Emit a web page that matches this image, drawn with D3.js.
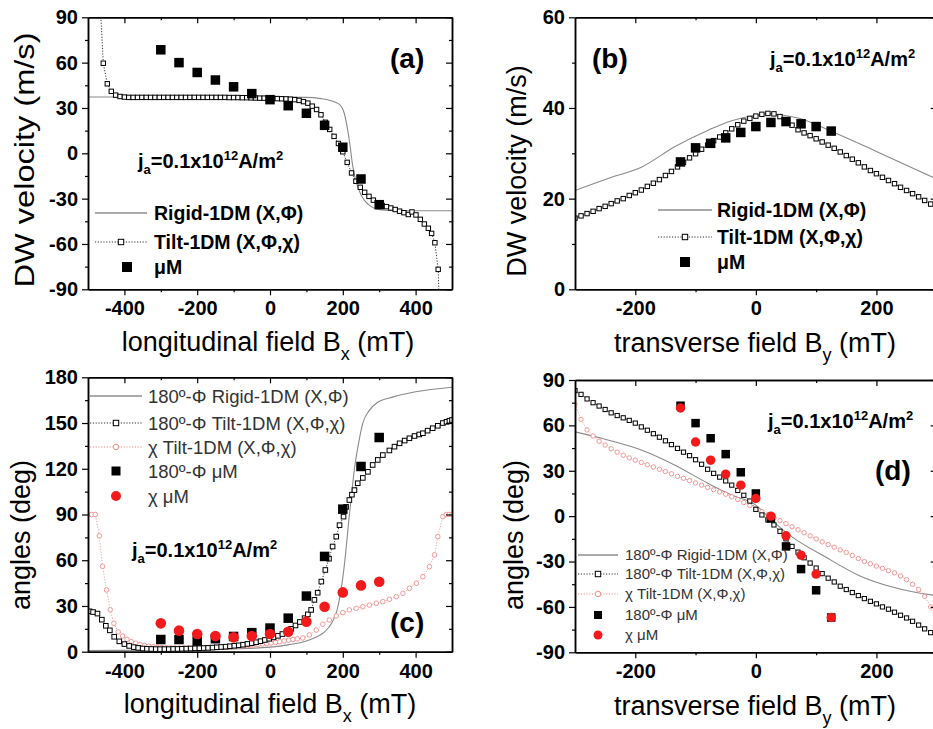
<!DOCTYPE html>
<html>
<head>
<meta charset="utf-8">
<script src="https://cdn.jsdelivr.net/npm/d3@7"></script>
<style>
  body { margin: 0; background: #fff; }
  svg { display: block; }
</style>
</head>
<body>
<svg id="fig" width="933" height="729"></svg>
<script>
// ---------- data ----------
// (a) velocity vs longitudinal field
const aMuX = [-300, -250, -200, -150, -100, -50, 0, 50, 100, 150, 200, 250, 300];
const aMuV = [68.5, 60, 53.5, 48.5, 44, 39.5, 35.5, 31.5, 26.5, 18.5, 4, -17, -34];
const aRigid = [[-500,37.3],[0,37.2],[100,37],[140,36.2],[165,35],[190,32.5],[204,26.5],[213,16],[220,5],
  [227,-8],[234,-16.5],[241,-22],[250,-27.5],[259,-31],[278,-35.3],[305,-37.5],[350,-38],[500,-38]];
const aTilt = [[-465,92],[-458,59.6],[-447,46],[-436,41],[-424,38.5],[-412,37.6],[-400,37.2],[-388,37],[-376,37],
  [-364,37],[-352,37],[-340,37],[-328,37],[-316,37],[-304,37],[-292,37],[-280,37],[-268,37],[-256,37],[-244,37],
  [-232,37],[-220,37],[-208,37],[-196,37],[-184,37],[-172,37],[-160,37],[-148,37],[-136,37],[-124,37],[-112,36.9],
  [-100,36.9],[-88,36.9],[-76,36.8],[-64,36.8],[-52,36.7],[-40,36.6],[-28,36.5],[-16,36.5],[-4,36.4],[8,36.3],
  [20,36.2],[32,36.1],[44,36],[56,35.8],[68,35.5],[80,35],[92,34.2],[104,33.2],[116,31.2],[128,29],[140,25.5],
  [152,20.5],[164,15.8],[176,11.2],[188,6.5],[200,1],[212,-6],[224,-13],[236,-18.5],[248,-22.5],[260,-25.8],
  [272,-28.5],[284,-31],[296,-33],[308,-34.5],[320,-35.3],[332,-36.2],[344,-37.2],[356,-38.3],[368,-39.3],
  [380,-40.5],[390,-38.8],[401,-40.8],[413,-43.7],[424,-46.8],[435,-49.6],[444,-53],[453,-59.2],[462,-76.8],[464,-92]];

// (b) velocity vs transverse field
const bMuX = [-125, -100, -75, -50, -25, 0, 25, 50, 75, 100, 125];
const bMuV = [28.1, 31.2, 32.2, 33.4, 34.6, 35.9, 36.8, 37, 36.5, 35.9, 34.9];
const bRigid = [[-300,21.8],[-244,24.5],[-189,27],[-134,31.5],[-79,35.1],[-40,37.2],[0,38.4],[20,38.7],
  [40,38.5],[70,37.8],[126,34.8],[200,30.4],[300,24.3]];
const bTilt = [[-300,15.7],[-290,16.2],[-280,16.7],[-270,17.2],[-260,17.8],[-250,18.3],[-240,18.9],[-230,19.5],
  [-220,20],[-210,20.7],[-200,21.3],[-190,21.9],[-180,22.7],[-170,23.4],[-160,24.2],[-150,25.1],[-140,26],
  [-130,27],[-120,28],[-110,29],[-100,29.9],[-90,30.9],[-80,31.8],[-70,32.8],[-60,33.6],[-50,34.5],[-40,35.4],
  [-30,36.3],[-20,37.1],[-10,37.7],[0,38.2],[10,38.6],[20,38.8],[30,38.7],[40,38.1],[50,37.3],[60,36.2],
  [70,35.2],[80,34.5],[90,33.9],[100,33.2],[110,32.5],[120,31.8],[130,31.1],[140,30.3],[150,29.5],[160,28.7],
  [170,27.9],[180,27],[190,26.2],[200,25.5],[210,24.7],[220,24],[230,23.3],[240,22.5],[250,21.8],[260,21.1],
  [270,20.4],[280,19.6],[290,18.8],[300,18]];

// (c) angles vs longitudinal field
const cMuX = [-300, -250, -200, -150, -100, -50, 0, 50, 100, 150, 200, 250, 300];
const cPhiMu = [8, 8, 7, 8.5, 10, 12.5, 15.5, 22, 36.5, 62.5, 93.5, 121.5, 140.5];
const cChiMu = [18.6, 13.8, 11.6, 10.3, 9.4, 10.3, 11.6, 13.1, 19.7, 29.5, 38.9, 43.5, 45.9];
const cRigid = [[-500,0.8],[-300,1],[-100,1.8],[0,3],[50,4.5],[100,7],[130,10],[150,13],[170,19],[185,28],
  [198,45],[208,65],[216,85],[224,103],[232,120],[242,135],[255,150],[272,158],[292,163],[337,167],[400,170.5],[500,173.5]];
const cTilt = [[-496,26.5],[-486,26],[-474,25],[-462,21],[-451,17],[-440,14],[-428,9.8],[-414,6.8],[-400,5],
  [-387,3.8],[-374,3],[-362,2.5],[-350,2.1],[-338,1.9],[-326,1.8],[-314,1.7],[-302,1.7],[-290,1.7],[-278,1.7],
  [-266,1.8],[-254,1.8],[-242,1.9],[-230,2],[-218,2.1],[-206,2.2],[-194,2.3],[-182,2.4],[-170,2.5],[-158,2.7],
  [-146,2.9],[-134,3.1],[-122,3.3],[-110,3.6],[-98,3.9],[-86,4.2],[-74,4.6],[-62,5.1],[-50,5.6],[-38,6.2],
  [-26,6.9],[-14,7.7],[-2,8.5],[10,9.4],[22,10.4],[34,11.6],[46,13.2],[58,15],[70,17.2],[82,19.5],[95,22],
  [104,24.5],[113,27.4],[122,34],[131,38.7],[141,46],[152,53.6],[162,61],[172,69],[182,75.5],[191,83],
  [202,88.6],[209,95],[218,99.5],[225,103],[232,106],[241,110.5],[255,114],[269,118],[282,122.5],[296,125.8],
  [310,129],[328,132],[342,134.5],[356,136.7],[370,138.5],[383,140],[397,141.5],[410,142.5],[420,143.3],
  [433,145],[447,146.6],[461,148.2],[475,150],[485,150.8],[493,151.5],[500,152]];
const cChi = [[-500,90],[-490,90],[-480,90],[-469,76],[-460,56],[-449,40.5],[-439,27.5],[-429,18.6],[-417,13],
  [-405,10.3],[-393,8.1],[-381,6.6],[-369,5.5],[-357,4.7],[-345,4.1],[-333,3.6],[-321,3.2],[-309,2.9],[-297,2.7],
  [-285,2.6],[-273,2.5],[-261,2.4],[-249,2.4],[-237,2.4],[-225,2.4],[-213,2.4],[-201,2.5],[-189,2.5],[-177,2.6],
  [-165,2.7],[-153,2.8],[-141,2.9],[-129,3],[-117,3.1],[-105,3.3],[-93,3.5],[-81,3.7],[-69,3.9],[-57,4.1],
  [-45,4.4],[-33,4.7],[-21,5],[-9,5.3],[3,5.7],[15,6.1],[27,6.6],[39,7.1],[51,7.6],[63,8],[75,8.4],[90,9],
  [108,11],[127,14.2],[145,18],[163,20.8],[182,23.4],[200,25.6],[218,27.4],[237,28.5],[255,29.5],[273,30.6],
  [292,31.8],[310,32.8],[328,34.4],[347,36.1],[365,38.3],[383,41.6],[402,44.9],[420,49.2],[438,55.8],[452,63.5],
  [461,75.5],[475,88.6],[484,90],[492,90],[500,90]];

// (d) angles vs transverse field
const dMuX = [-125, -100, -75, -50, -25, 0, 25, 50, 75, 100, 125];
const dPhiMu = [73, 61.5, 51.5, 41, 29, 15, -1.5, -20, -35, -49, -67];
const dChiMu = [71.5, 49, 37, 27.8, 20.5, 11.7, 0, -13, -25.8, -38.3, -67];
const dRigid = [[-300,55.7],[-244,50.2],[-189,43.6],[-134,33.7],[-79,21.6],[-40,13.9],[0,7.3],[26,-2.6],
  [60,-13.7],[115,-26.9],[170,-39],[225,-46.7],[294,-52.2],[300,-52.5]];
const dTilt = [[-300,83],[-290,80.5],[-280,77.5],[-270,75],[-260,72.8],[-250,70.5],[-240,68.3],[-230,66.5],
  [-220,65],[-210,63.3],[-200,61.5],[-190,59],[-180,56.8],[-170,54.5],[-160,52.2],[-150,49.8],[-140,47.3],
  [-130,44.8],[-120,42.3],[-110,40],[-100,37.3],[-90,34.3],[-80,31],[-70,28.3],[-60,25.8],[-50,23.3],[-40,20.5],
  [-30,17],[-20,13.8],[-10,10],[0,4.5],[10,0.8],[20,-2.5],[30,-5.8],[40,-10],[50,-15],[60,-20],[70,-23.8],
  [80,-27.5],[90,-31],[100,-34.3],[110,-38],[120,-41],[130,-43.5],[140,-46.3],[150,-48.5],[160,-50.5],
  [170,-52.5],[180,-54.5],[190,-56.3],[200,-58],[210,-60],[220,-61.5],[230,-63.5],[240,-65.5],[250,-67.3],
  [260,-69.5],[270,-72],[280,-74.5],[290,-77],[300,-80]];
const dChi = [[-300,74],[-290,64],[-280,57],[-270,53],[-260,49.5],[-250,47],[-240,44.5],[-230,42.3],[-220,40.3],
  [-210,38.5],[-200,37],[-190,35.5],[-180,34],[-170,32.5],[-160,31],[-150,29.5],[-140,28],[-130,26.3],[-120,25],
  [-110,23.5],[-100,22],[-90,20.5],[-80,19],[-70,17.5],[-60,16],[-50,14.5],[-40,12.8],[-30,11],[-20,9],[-10,7],
  [0,5],[10,3],[20,1],[30,-1],[40,-3],[50,-5],[60,-7],[70,-9],[80,-11],[90,-13],[100,-15],[110,-17],[120,-18.8],
  [130,-20.5],[140,-22.3],[150,-24],[160,-26],[170,-28],[180,-30],[190,-31.5],[200,-33],[210,-34.5],[220,-36],
  [230,-37.5],[240,-39.5],[250,-42],[260,-45],[270,-48.5],[280,-53],[290,-60],[300,-70]];

// tick values
const xTicksLong = [-400, -200, 0, 200, 400];
const xMinorLong = [-300, -100, 100, 300];
const xTicksTrans = [-200, 0, 200];
const xMinorTrans = [-100, 100];
const yTicksA = [-90, -60, -30, 0, 30, 60, 90];
const yMinorA = [-75, -45, -15, 15, 45, 75];
const yTicksB = [0, 20, 40, 60];
const yMinorB = [10, 30, 50];
const yTicksC = [0, 30, 60, 90, 120, 150, 180];
const yMinorC = [15, 45, 75, 105, 135, 165];

// ---------- drawing ----------
const FONT = '"Liberation Sans", Arial, Helvetica, sans-serif';
const svg = d3.select('#fig');

const RIGID = '#8a8a8a';
const PINK = '#f08c8c';
const RED = '#f21a1a';

function makePanel(o) {
  const sx = d3.scaleLinear().domain(o.xd).range([o.x0, o.x1]);
  const sy = d3.scaleLinear().domain(o.yd).range([o.y1, o.y0]);
  const g = svg.append('g');
  const id = 'clip-' + o.name;
  svg.append('clipPath').attr('id', id)
    .append('rect').attr('x', o.x0).attr('y', o.y0)
    .attr('width', o.x1 - o.x0).attr('height', o.y1 - o.y0);
  const plot = g.append('g').attr('clip-path', `url(#${id})`);
  return { sx, sy, g, plot, o };
}

function axes(p) {
  const { sx, sy, g, o } = p;
  const style = sel => {
    sel.attr('font-family', FONT).attr('font-size', 20).attr('font-weight', 'bold');
    sel.select('.domain').attr('stroke-width', 1.5).attr('stroke', '#000');
    sel.selectAll('.tick line').attr('stroke-width', 1.2).attr('stroke', '#000');
    sel.selectAll('.tick text').attr('fill', '#000');
  };
  const none = () => '';
  g.append('g').attr('transform', `translate(0,${o.y1})`)
    .call(d3.axisBottom(sx).tickValues(o.xMajor).tickSizeInner(6).tickSizeOuter(0).tickPadding(6).tickFormat(d => d)).call(style);
  g.append('g').attr('transform', `translate(0,${o.y1})`)
    .call(d3.axisBottom(sx).tickValues(o.xMinor).tickSizeInner(3).tickSizeOuter(0).tickFormat(none)).call(style);
  g.append('g').attr('transform', `translate(0,${o.y0})`)
    .call(d3.axisTop(sx).tickValues(o.xMajor).tickSizeInner(-6).tickSizeOuter(0).tickFormat(none)).call(style);
  g.append('g').attr('transform', `translate(0,${o.y0})`)
    .call(d3.axisTop(sx).tickValues(o.xMinor).tickSizeInner(-3).tickSizeOuter(0).tickFormat(none)).call(style);
  g.append('g').attr('transform', `translate(${o.x0},0)`)
    .call(d3.axisLeft(sy).tickValues(o.yMajor).tickSizeInner(6).tickSizeOuter(0).tickPadding(4).tickFormat(d => d)).call(style);
  g.append('g').attr('transform', `translate(${o.x0},0)`)
    .call(d3.axisLeft(sy).tickValues(o.yMinor).tickSizeInner(3).tickSizeOuter(0).tickFormat(none)).call(style);
  g.append('g').attr('transform', `translate(${o.x1},0)`)
    .call(d3.axisRight(sy).tickValues(o.yMajor).tickSizeInner(-6).tickSizeOuter(0).tickFormat(none)).call(style);
  g.append('g').attr('transform', `translate(${o.x1},0)`)
    .call(d3.axisRight(sy).tickValues(o.yMinor).tickSizeInner(-3).tickSizeOuter(0).tickFormat(none)).call(style);
}

function inView(p, data) {
  const [lo, hi] = p.sy.domain();
  return data.filter(d => d[1] >= lo - 2 && d[1] <= hi + 2);
}

function rigidLine(p, data) {
  const line = d3.line().x(d => p.sx(d[0])).y(d => p.sy(d[1])).curve(d3.curveMonotoneX);
  p.plot.append('path').datum(data).attr('d', line)
    .attr('fill', 'none').attr('stroke', RIGID).attr('stroke-width', 1.1);
}

function tiltSeries(p, data, color, size, circle) {
  const line = d3.line().x(d => p.sx(d[0])).y(d => p.sy(d[1]));
  p.plot.append('path').datum(data).attr('d', line)
    .attr('fill', 'none').attr('stroke', color).attr('stroke-width', 1)
    .attr('stroke-dasharray', '1.2,1.6').attr('opacity', 0.8);
  const pts = inView(p, data);
  if (circle) {
    p.plot.append('g').selectAll('circle').data(pts).join('circle')
      .attr('cx', d => p.sx(d[0])).attr('cy', d => p.sy(d[1])).attr('r', size / 2)
      .attr('fill', '#fff').attr('stroke', color).attr('stroke-width', 0.9);
  } else {
    p.plot.append('g').selectAll('rect').data(pts).join('rect')
      .attr('x', d => p.sx(d[0]) - size / 2).attr('y', d => p.sy(d[1]) - size / 2)
      .attr('width', size).attr('height', size)
      .attr('fill', '#fff').attr('stroke', color).attr('stroke-width', 1);
  }
}

function muSquares(p, xs, vs, size) {
  p.plot.append('g').selectAll('rect').data(xs).join('rect')
    .attr('x', (d, i) => p.sx(d) - size / 2).attr('y', (d, i) => p.sy(vs[i]) - size / 2)
    .attr('width', size).attr('height', size).attr('fill', '#000');
}

function muCircles(p, xs, vs, r) {
  p.plot.append('g').selectAll('circle').data(xs).join('circle')
    .attr('cx', d => p.sx(d)).attr('cy', (d, i) => p.sy(vs[i])).attr('r', r).attr('fill', RED);
}

function xTitle(cx, y, main, sub) {
  const t = svg.append('text').attr('x', cx).attr('y', y).attr('text-anchor', 'middle')
    .attr('font-family', FONT).attr('font-size', 27).attr('fill', '#000');
  t.append('tspan').text(main);
  t.append('tspan').attr('dy', 9).attr('font-size', 18).text(sub);
  t.append('tspan').attr('dy', -9).text(' (mT)');
}

function yTitle(bx, cy, label, len) {
  const t = svg.append('text').attr('transform', `translate(${bx},${cy}) rotate(-90)`)
    .attr('text-anchor', 'middle').attr('font-family', FONT).attr('font-size', 27).attr('fill', '#000')
    .text(label);
  if (len) t.attr('textLength', len).attr('lengthAdjust', 'spacingAndGlyphs');
}

function jLabel(x, y) {
  const t = svg.append('text').attr('x', x).attr('y', y)
    .attr('font-family', FONT).attr('font-size', 20).attr('font-weight', 'bold').attr('fill', '#000');
  t.append('tspan').text('j');
  t.append('tspan').attr('dy', 6).attr('font-size', 13).text('a');
  t.append('tspan').attr('dy', -6).text('=0.1x10');
  t.append('tspan').attr('dy', -8).attr('font-size', 13).text('12');
  t.append('tspan').attr('dy', 8).text('A/m');
  t.append('tspan').attr('dy', -8).attr('font-size', 13).text('2');
}

function panelTag(x, y, s, size) {
  svg.append('text').attr('x', x).attr('y', y).attr('font-family', FONT)
    .attr('font-size', size).attr('font-weight', 'bold').attr('fill', '#000').text(s);
}

// legend: rows of {kind, label, y}
function legend(L) {
  const g = svg.append('g');
  L.rows.forEach(r => {
    if (r.kind === 'rigid' || r.kind === 'tilt' || r.kind === 'chi') {
      const col = r.kind === 'rigid' ? '#555' : (r.kind === 'chi' ? PINK : '#333');
      g.append('line').attr('x1', L.x1).attr('x2', L.x2).attr('y1', r.y).attr('y2', r.y)
        .attr('stroke', col).attr('stroke-width', r.kind === 'rigid' ? 1.2 : 1)
        .attr('stroke-dasharray', r.kind === 'rigid' ? null : '1.2,1.6');
    }
    if (r.kind === 'tilt') {
      g.append('rect').attr('x', L.mx - 2.7).attr('y', r.y - 2.7).attr('width', 5.4).attr('height', 5.4)
        .attr('fill', '#fff').attr('stroke', '#000').attr('stroke-width', 1);
    } else if (r.kind === 'chi') {
      g.append('circle').attr('cx', L.mx).attr('cy', r.y).attr('r', 2.8)
        .attr('fill', '#fff').attr('stroke', PINK).attr('stroke-width', 1);
    } else if (r.kind === 'mu') {
      g.append('rect').attr('x', (L.sx || L.mx) - L.ms / 2).attr('y', r.y - L.ms / 2)
        .attr('width', L.ms).attr('height', L.ms).attr('fill', '#000');
    } else if (r.kind === 'muChi') {
      g.append('circle').attr('cx', (L.sx || L.mx)).attr('cy', r.y).attr('r', L.ms / 2 + 0.5).attr('fill', RED);
    }
    g.append('text').attr('x', L.tx).attr('y', r.y + L.fs * 0.36)
      .attr('font-family', FONT).attr('font-size', L.fs).attr('font-weight', L.bold ? 'bold' : 'normal')
      .attr('fill', L.bold ? '#000' : '#333').text(r.label);
  });
}

// ----- panel (a)
const pa = makePanel({ name: 'a', x0: 88, x1: 452, y0: 17.3, y1: 289.3, xd: [-500, 500], yd: [-90, 90],
  xMajor: xTicksLong, xMinor: xMinorLong, yMajor: yTicksA, yMinor: yMinorA });
rigidLine(pa, aRigid);
tiltSeries(pa, aTilt, '#000', 4.4, false);
muSquares(pa, aMuX, aMuV, 9.5);
axes(pa);

// ----- panel (b)
const pb = makePanel({ name: 'b', x0: 575, x1: 936.7, y0: 17.3, y1: 289.3, xd: [-300, 300], yd: [0, 60],
  xMajor: xTicksTrans, xMinor: xMinorTrans, yMajor: yTicksB, yMinor: yMinorB });
rigidLine(pb, bRigid);
tiltSeries(pb, bTilt, '#000', 4.4, false);
muSquares(pb, bMuX, bMuV, 9.5);
axes(pb);

// ----- panel (c)
const pc = makePanel({ name: 'c', x0: 88, x1: 452, y0: 377.3, y1: 651.7, xd: [-500, 500], yd: [0, 180],
  xMajor: xTicksLong, xMinor: xMinorLong, yMajor: yTicksC, yMinor: yMinorC });
rigidLine(pc, cRigid);
tiltSeries(pc, cChi, PINK, 4.6, true);
tiltSeries(pc, cTilt, '#000', 4.6, false);
muSquares(pc, cMuX, cPhiMu, 9.5);
muCircles(pc, cMuX, cChiMu, 5.3);
axes(pc);

// ----- panel (d)
const pd = makePanel({ name: 'd', x0: 575, x1: 936.7, y0: 380, y1: 652.3, xd: [-300, 300], yd: [-90, 90],
  xMajor: xTicksTrans, xMinor: xMinorTrans, yMajor: yTicksA, yMinor: yMinorA });
rigidLine(pd, dRigid);
tiltSeries(pd, dChi, PINK, 4.4, true);
tiltSeries(pd, dTilt, '#000', 4.2, false);
muSquares(pd, dMuX, dPhiMu, 8.5);
muCircles(pd, dMuX, dChiMu, 4.7);
axes(pd);

// ----- titles
xTitle(268, 351, 'longitudinal field B', 'x');
xTitle(755, 352, 'transverse field B', 'y');
xTitle(270, 713, 'longitudinal field B', 'x');
xTitle(755, 715, 'transverse field B', 'y');
yTitle(34, 160, 'DW velocity (m/s)', 255);
yTitle(526, 171, 'DW velocity (m/s)');
yTitle(30, 535, 'angles (deg)');
yTitle(523, 535, 'angles (deg)');

// ----- annotations
jLabel(138, 168);
jLabel(770, 66);
jLabel(132, 557);
jLabel(768, 428);
panelTag(390, 68, '(a)', 28);
panelTag(592, 68, '(b)', 28);
panelTag(390, 632, '(c)', 28);
panelTag(875, 480, '(d)', 28);

// ----- legends
legend({ x1: 95, x2: 147, mx: 121, sx: 127, ms: 10, tx: 154, fs: 19.5, bold: true, rows: [
  { kind: 'rigid', label: 'Rigid-1DM (X,Φ)', y: 213 },
  { kind: 'tilt', label: 'Tilt-1DM (X,Φ,χ)', y: 242 },
  { kind: 'mu', label: 'μM', y: 267 } ] });
legend({ x1: 658, x2: 712, mx: 685, ms: 10, tx: 717, fs: 19.5, bold: true, rows: [
  { kind: 'rigid', label: 'Rigid-1DM (X,Φ)', y: 210 },
  { kind: 'tilt', label: 'Tilt-1DM (X,Φ,χ)', y: 237 },
  { kind: 'mu', label: 'μM', y: 262 } ] });
legend({ x1: 90, x2: 142, mx: 116, ms: 9, tx: 148, fs: 18.5, bold: false, rows: [
  { kind: 'rigid', label: '180º-Φ Rigid-1DM (X,Φ)', y: 396 },
  { kind: 'tilt', label: '180º-Φ Tilt-1DM (X,Φ,χ)', y: 423 },
  { kind: 'chi', label: 'χ Tilt-1DM (X,Φ,χ)', y: 447 },
  { kind: 'mu', label: '180º-Φ μM', y: 471 },
  { kind: 'muChi', label: 'χ μM', y: 496 } ] });
legend({ x1: 578, x2: 618, mx: 598, ms: 8, tx: 625, fs: 15, bold: false, rows: [
  { kind: 'rigid', label: '180º-Φ Rigid-1DM (X,Φ)', y: 555 },
  { kind: 'tilt', label: '180º-Φ Tilt-1DM (X,Φ,χ)', y: 574 },
  { kind: 'chi', label: 'χ Tilt-1DM (X,Φ,χ)', y: 594 },
  { kind: 'mu', label: '180º-Φ μM', y: 615 },
  { kind: 'muChi', label: 'χ μM', y: 635 } ] });
</script>
</body>
</html>
